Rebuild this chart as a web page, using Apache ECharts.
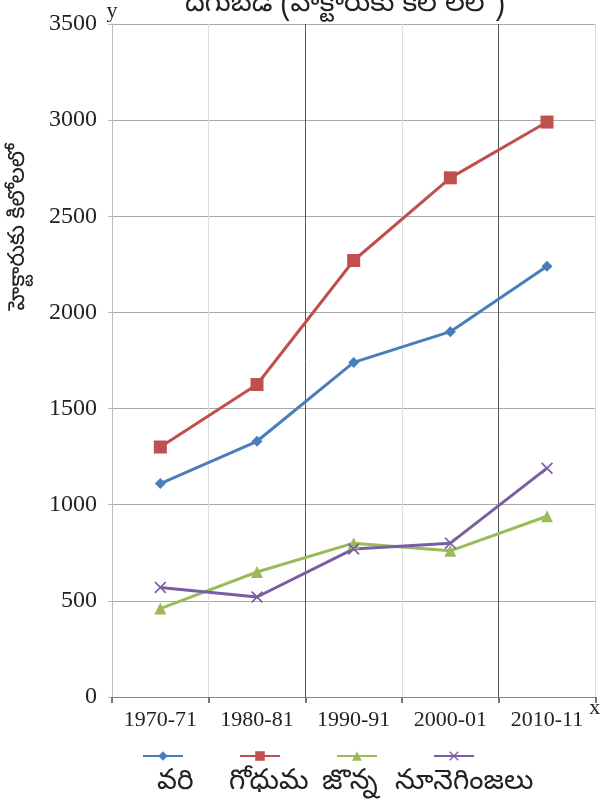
<!DOCTYPE html>
<html>
<head>
<meta charset="utf-8">
<script src="https://cdn.jsdelivr.net/npm/echarts@6/dist/echarts.min.js"></script>
<style>
  html, body { margin: 0; padding: 0; background: #ffffff; }
  #chart { width: 603px; height: 810px; }
</style>
</head>
<body>
<div id="chart"></div>
<script>
// ---- data ----
const categories = ['1970-71', '1980-81', '1990-91', '2000-01', '2010-11'];
const seriesNames = ['వరి', 'గోధుమ', 'జొన్న', 'నూనెగింజలు'];
const rice = [1110, 1330, 1740, 1900, 2240];
const wheat = [1300, 1625, 2270, 2700, 2990];
const jowar = [460, 650, 800, 760, 940];
const oilseeds = [570, 520, 770, 800, 1190];
const yTicks = { min: 0, max: 3500, interval: 500 };
const titleText = 'దిగుబడి (హెక్టారుకు కిలోలలో)';
const yAxisTitle = 'హెక్టారుకు కిలోలలో';

const colors = ['#4a7ebb', '#c0504d', '#9bbb59', '#7a5ea2'];
const teluguFont = "'Noto Sans Telugu', 'Noto Sans', 'DejaVu Sans', sans-serif";
const serif = "'Liberation Serif', 'Times New Roman', serif";
const xShape = 'path://M0,2 L2,0 L10,8 L18,0 L20,2 L12,10 L20,18 L18,20 L10,12 L2,20 L0,18 L8,10 Z';

const chart = echarts.init(document.getElementById('chart'), null, { renderer: 'canvas' });

function mkSeries(name, data, color, symbol, size) {
  return {
    name: name, type: 'line', data: data,
    symbol: symbol, symbolSize: size,
    lineStyle: { color: color, width: 3 },
    itemStyle: { color: color },
    emphasis: { disabled: true },
    animation: false
  };
}

const legendLabelX = [157, 229, 322, 395];

chart.setOption({
  backgroundColor: '#ffffff',
  animation: false,
  color: colors,
  grid: { left: 112, right: 6, top: 24, bottom: 113, containLabel: false },
  legend: {
    left: 137, top: 745,
    itemWidth: 40, itemHeight: 12, itemGap: 55,
    formatter: function () { return ''; },
    data: seriesNames,
    selectedMode: false
  },
  xAxis: {
    type: 'category',
    data: categories,
    boundaryGap: true,
    name: 'x',
    nameLocation: 'end',
    nameGap: -10,
    nameTextStyle: { fontFamily: serif, fontSize: 22, color: '#222', verticalAlign: 'top', padding: [0, 0, 0, 0] },
    axisLine: { show: true, lineStyle: { color: '#888', width: 1 } },
    axisTick: { show: true, alignWithLabel: false, length: 6, lineStyle: { color: '#777', width: 2 } },
    axisLabel: { fontFamily: serif, fontSize: 22, color: '#222', margin: 12 },
    splitLine: { show: true, lineStyle: { color: ['#dddddd', '#dddddd', '#555555', '#dddddd', '#555555', '#dddddd'], width: 1 } }
  },
  yAxis: {
    type: 'value',
    min: yTicks.min, max: yTicks.max, interval: yTicks.interval,
    name: 'y',
    nameLocation: 'end',
    nameGap: 2,
    nameTextStyle: { fontFamily: serif, fontSize: 22, color: '#222', align: 'center' },
    axisLine: { show: true, lineStyle: { color: '#bbb', width: 1 } },
    axisTick: { show: true, length: 4, lineStyle: { color: '#bbb' } },
    axisLabel: { fontFamily: serif, fontSize: 24, color: '#222', margin: 15, formatter: function (v) { return String(v); } },
    splitLine: { show: true, lineStyle: { color: '#a9a9a9', width: 1 } }
  },
  graphic: [
    {
      type: 'text', left: 185, top: -7,
      style: { text: titleText, font: '28px ' + teluguFont, fill: '#222' }
    },
    {
      type: 'text', x: 21, y: 227, rotation: Math.PI / 2,
      style: { text: yAxisTitle, font: '23px ' + teluguFont, fill: '#222', align: 'center', verticalAlign: 'middle' }
    }
  ].concat(seriesNames.map(function (n, i) {
    return {
      type: 'text', x: legendLabelX[i], y: 785,
      style: { text: n, font: '28px ' + teluguFont, fill: '#222', align: 'left', verticalAlign: 'middle' }
    };
  })),
  series: [
    mkSeries(seriesNames[0], rice, colors[0], 'diamond', 11),
    mkSeries(seriesNames[1], wheat, colors[1], 'rect', 13),
    mkSeries(seriesNames[2], jowar, colors[2], 'triangle', 12),
    mkSeries(seriesNames[3], oilseeds, colors[3], xShape, 12)
  ]
});
</script>
</body>
</html>
